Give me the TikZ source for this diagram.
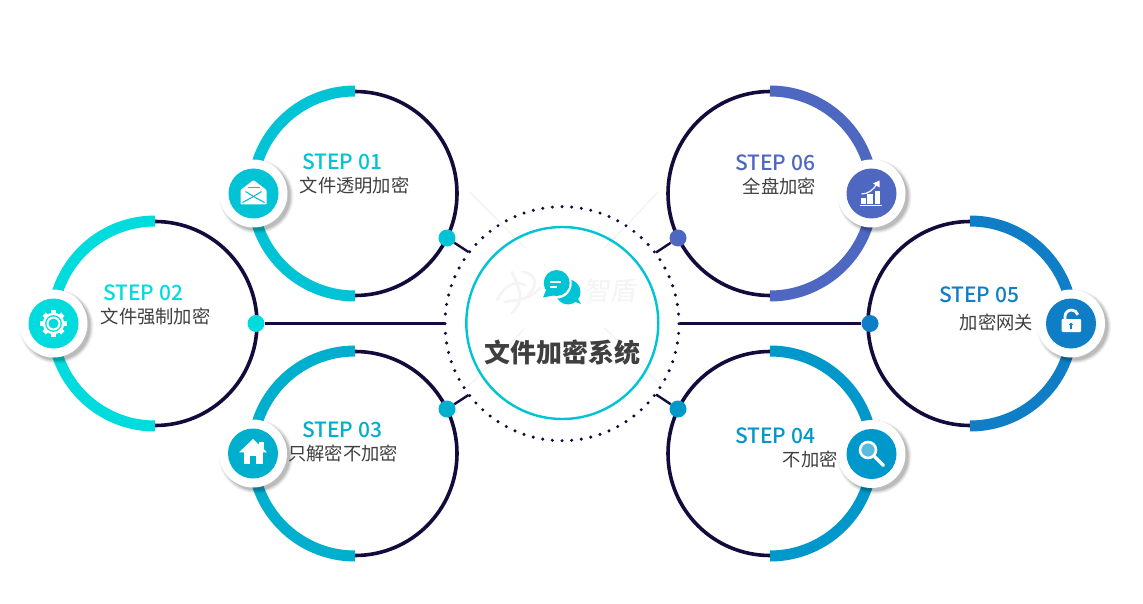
\documentclass[tikz,border=0pt]{standalone}
\usepackage{fontspec}
\setmainfont{Noto Sans CJK SC}
\newfontfamily\stepfont{Noto Sans CJK SC Medium}
\usetikzlibrary{calc}
\definecolor{ink}{HTML}{140A3C}
\definecolor{txt}{HTML}{3F3F3F}
\definecolor{cA}{HTML}{00C4D6}
\definecolor{cB}{HTML}{00DCDE}
\definecolor{cC}{HTML}{00AECE}
\definecolor{cD}{HTML}{0097CB}
\definecolor{cE}{HTML}{0F7EC6}
\definecolor{cF}{HTML}{4E67C1}
\definecolor{faint}{HTML}{F4F4F4}
\tikzset{
  x=1pt,y=-1pt,
  ringnode/.style={circle,draw=ink,line width=3.6pt,minimum size=204pt,inner sep=0pt},
  band/.style={line width=11pt},
  dotnode/.style={circle,fill=#1,minimum size=17pt,inner sep=0pt},
  conn/.style={draw=ink,line width=2.4pt},
  badge/.style={circle,fill=white,minimum size=68pt,inner sep=0pt},
  disc/.style={circle,fill=#1,minimum size=50pt,inner sep=0pt},
  steplabel/.style={font=\fontsize{21}{24}\stepfont\selectfont,text=#1,anchor=west,inner sep=0pt},
  cnlabel/.style={font=\fontsize{18.3}{20}\selectfont,text=txt,anchor=west,inner sep=0pt},
  ghost/.style={draw=faint,line width=1.4pt},
}
\newcommand{\softshadow}[1]{%
  \foreach \rr/\oo in {37/.05,36/.06,35/.08,34/.10}{\fill[black,opacity=\oo] ($(#1)+(3,3)$) circle[radius=\rr pt];}}
\begin{document}
\begin{tikzpicture}
\useasboundingbox (0,0) rectangle (1143,604);
\fill[white] (0,0) rectangle (1143,604);

% faint background lines and watermark
\coordinate (g1a) at (470,192); \coordinate (g1b) at (525,248);
\coordinate (g2a) at (658,192); \coordinate (g2b) at (605,248);
\coordinate (g3a) at (468,387); \coordinate (g3b) at (525,328);
\coordinate (g4a) at (660,385); \coordinate (g4b) at (605,328);
\draw[ghost] (g1a)--(g1b); \draw[ghost] (g2a)--(g2b); \draw[ghost] (g3a)--(g3b); \draw[ghost] (g4a)--(g4b);
\begin{scope}[draw=faint,line width=2.6pt,line cap=round]
\draw (497,300) .. controls (505,285) and (515,280) .. (525,285);
\draw (512,272) .. controls (520,290) and (525,300) .. (512,313);
\draw (522,272) .. controls (535,272) and (540,285) .. (528,295);
\draw (505,302) .. controls (515,300) and (530,300) .. (540,288);
\end{scope}
\node[text=faint,font=\fontsize{26}{28}\selectfont,xslant=.12,inner sep=0pt] (mark) at (612,291) {智盾};

% rings
\node[ringnode] (c1) at (355,193.5) {};
\node[ringnode] (c2) at (155,323.5) {};
\node[ringnode] (c3) at (355,453.5) {};
\node[ringnode] (c4) at (770,453.5) {};
\node[ringnode] (c5) at (970,323.5) {};
\node[ringnode] (c6) at (770,193.5) {};

% thick arcs
\draw[band,cA] (355,91) arc[start angle=90,end angle=270,radius=102.5pt];
\draw[band,cB] (155,221) arc[start angle=90,end angle=270,radius=102.5pt];
\draw[band,cC] (355,351) arc[start angle=90,end angle=270,radius=102.5pt];
\draw[band,cD] (770,351) arc[start angle=90,end angle=-90,radius=102.5pt];
\draw[band,cE] (970,221) arc[start angle=90,end angle=-90,radius=102.5pt];
\draw[band,cF] (770,91) arc[start angle=90,end angle=-90,radius=102.5pt];

% hub
\node[circle,draw=cA,line width=2.4pt,minimum size=192pt,inner sep=0pt] (hub) at (562.3,323) {};
\foreach \a in {0,4.737,...,359}{\fill[ink] ($(562,323.7)+(\a:117 and 117)$) circle[radius=1.7pt];}
\node[text=txt,font=\fontsize{26}{28}\selectfont\bfseries,inner sep=0pt] (title) at (562.5,353) {文件加密系统};

% connector ends
\coordinate (e1) at (468.5,252);
\coordinate (e2) at (445,323.5);
\coordinate (e3) at (468.5,395);
\coordinate (e4) at (656,394.5);
\coordinate (e5) at (680,323.5);
\coordinate (e6) at (656,252.5);

% dots
\node[dotnode=cA] (d1) at (447,238) {};
\node[dotnode=cB] (d2) at (256,323.5) {};
\node[dotnode=cC] (d3) at (447,409) {};
\node[dotnode=cD] (d4) at (678,409) {};
\node[dotnode=cE] (d5) at (870,323.5) {};
\node[dotnode=cF] (d6) at (678,238) {};
\draw[conn] (d1)--(e1);
\draw[conn] (d2)--(e2);
\draw[conn] (d3)--(e3);
\draw[conn] (d4)--(e4);
\draw[conn] (d5)--(e5);
\draw[conn] (d6)--(e6);

% badges
\coordinate (p1) at (253.5,193.5);
\coordinate (p2) at (53.5,323.5);
\coordinate (p3) at (253,453.5);
\coordinate (p4) at (871.5,454);
\coordinate (p5) at (1071,323.5);
\coordinate (p6) at (871.5,193.5);
\foreach \p in {p1,p2,p3,p4,p5,p6}{\softshadow{\p}}
\node[badge] (b1) at (p1) {}; \node[disc=cA] (i1) at (p1) {};
\node[badge] (b2) at (p2) {}; \node[disc=cB] (i2) at (p2) {};
\node[badge] (b3) at (p3) {}; \node[disc=cC] (i3) at (p3) {};
\node[badge] (b4) at (p4) {}; \node[disc=cD] (i4) at (p4) {};
\node[badge] (b5) at (p5) {}; \node[disc=cE] (i5) at (p5) {};
\node[badge] (b6) at (p6) {}; \node[disc=cF] (i6) at (p6) {};

% envelope
\begin{scope}[shift={(p1)}]
\fill[white,rounded corners=1pt] (-13,-3.5)--(0,-13.5)--(13,-3.5)--(13,11)--(-13,11)--cycle;
\draw[cA,line width=1.1pt] (-6,-6)--(6,-6);
\draw[cA,line width=1.1pt] (-8,-2)--(0,3)--(8,-2);
\draw[cA,line width=1.1pt] (-11,9)--(0,3)--(11,9);
\end{scope}

% gear
\begin{scope}[shift={(p2)}]
\foreach \a in {0,45,...,315}{\fill[white,rotate=\a] (-2.4,-13.2) rectangle (2.4,-8);}
\fill[white] (0,0) circle[radius=10.8pt];
\fill[cB] (0,0) circle[radius=8.4pt];
\fill[white] (0,0) circle[radius=7pt];
\fill[cB] (0,0) circle[radius=5pt];
\end{scope}

% house
\begin{scope}[shift={(p3)}]
\fill[white] (6,-11.5) rectangle (10.5,-3);
\fill[white] (0,-14.5)--(14,-1.2)--(-14,-1.2)--cycle;
\fill[white] (-9.5,-2) rectangle (9.5,10.5);
\fill[cC] (-3,2.5) rectangle (3,10.5);
\end{scope}

% magnifier
\begin{scope}[shift={(p4)}]
\fill[white!35!cD] (-3.5,-4) circle[radius=7.5pt];
\draw[white,line width=2.6pt] (-3.5,-4) circle[radius=8pt];
\draw[white,line width=3.2pt,line cap=round] (3,2.5)--(12,11.5);
\end{scope}

% open lock
\begin{scope}[shift={(p5)}]
\draw[white,line width=2.8pt] (-6,-4) -- (-6,-7) arc[start angle=180,end angle=15,radius=6.5pt];
\fill[white,rounded corners=1pt] (-9.5,-4.5) rectangle (10,8.5);
\fill[cE] (0,1) circle[radius=1.8pt];
\fill[cE] (-.8,1) rectangle (.8,5);
\end{scope}

% chart
\begin{scope}[shift={(p6)}]
\fill[white] (-11,5) rectangle (-6,11);
\fill[white] (-4.5,1) rectangle (1.5,11);
\fill[white] (3,-2) rectangle (8.5,11);
\fill[white] (-12,11.8) rectangle (10,12.8);
\draw[white,line width=1.2pt] (-10,0.5) .. controls (-3,0.5) and (2,-4) .. (5,-9);
\fill[white] (8,-13)--(8,-6)--(1.5,-10)--cycle;
\end{scope}

% chat icon
\fill[cA] (568,292) circle[radius=12.5pt];
\fill[cA] (570,300)--(581,304)--(574,292)--cycle;
\fill[white] (556.7,283.5) circle[radius=15pt];
\fill[cA] (556.7,283) circle[radius=13pt];
\fill[cA] (547,288)--(543,297.5)--(556,295)--cycle;
\fill[white] (550,281) rectangle (561,282.6);
\fill[white] (550,286.2) rectangle (557,287.8);

% labels
\node[steplabel=cA] (s1) at (302,162) {STEP 01};
\node[cnlabel] (t1) at (299.5,185.5) {文件透明加密};
\node[steplabel=cB] (s2) at (103,293) {STEP 02};
\node[cnlabel] (t2) at (100.5,316.5) {文件强制加密};
\node[steplabel=cC] (s3) at (302,430) {STEP 03};
\node[cnlabel] (t3) at (288,453.5) {只解密不加密};
\node[steplabel=cD] (s4) at (735,436) {STEP 04};
\node[cnlabel] (t4) at (782.5,459.5) {不加密};
\node[steplabel=cE] (s5) at (939,295) {STEP 05};
\node[cnlabel] (t5) at (959.5,322.5) {加密网关};
\node[steplabel=cF] (s6) at (735,163) {STEP 06};
\node[cnlabel] (t6) at (742.5,186.5) {全盘加密};
\end{tikzpicture}
\end{document}
